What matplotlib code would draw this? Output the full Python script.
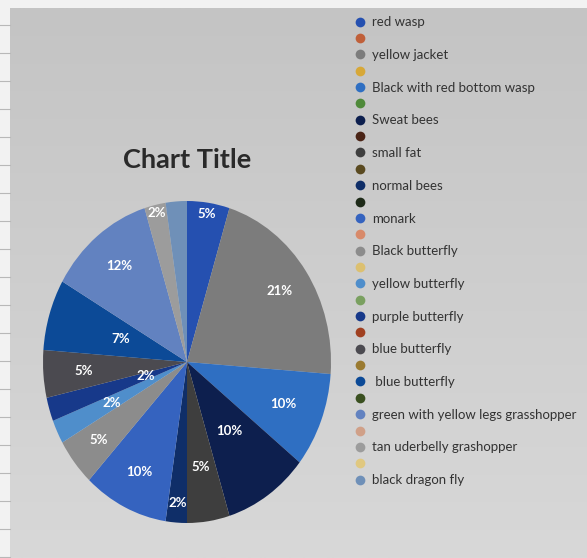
import matplotlib
matplotlib.use("Agg")
import matplotlib.pyplot as plt
import numpy as np
from matplotlib.lines import Line2D

# legend entries as they appear; blank names are empty series in the sheet
CATEGORIES = [
    "red wasp", "", "yellow jacket", "", "Black with red bottom wasp", "",
    "Sweat bees", "", "small fat", "", "normal bees", "", "monark", "",
    "Black butterfly", "", "yellow butterfly", "", "purple butterfly", "",
    "blue butterfly", "", " blue butterfly", "",
    "green with yellow legs grasshopper", "", "tan uderbelly grashopper", "",
    "black dragon fly",
]
COUNTS = [
    2, 0, 9, 0, 4, 0, 4, 0, 2, 0, 1, 0, 4, 0,
    2, 0, 1, 0, 1, 0, 2, 0, 3, 0, 5, 0, 1, 0, 1,
]
SHOW_LABEL = [
    True, False, True, False, True, False, True, False, True, False, True, False,
    True, False, True, False, True, False, True, False, True, False, True, False,
    True, False, True, False, False,
]
COLORS = [
    "#2550b0", "#c0603a", "#7c7c7c", "#d7a838", "#2f6fc2", "#4f8a3a",
    "#0d1f4e", "#4a2416", "#3e3e3e", "#5a4a20", "#0f2e68", "#1e2a18",
    "#3563bf", "#d88a6a", "#8c8c8c", "#dcc070", "#4f8ecb", "#7aa060",
    "#17398a", "#a04020", "#4b4a50", "#9a7a30", "#0c4a97", "#3a5020",
    "#6282c0", "#d0a088", "#9c9c9c", "#e0c880", "#6f90b8",
]
# radial position of each percentage label (fraction of radius)
LABEL_RADII = [
    0.93, 0, 0.78, 0, 0.72, 0, 0.52, 0, 0.66, 0, 0.88, 0, 0.76, 0,
    0.78, 0, 0.58, 0, 0.30, 0, 0.72, 0, 0.48, 0, 0.76, 0, 0.95, 0, 0.8,
]

W, H = 587, 558
fig = plt.figure(figsize=(W / 100, H / 100), dpi=100)
fig.patch.set_facecolor("#f2f2f2")

# chart area background (photo of a screen: grey with a soft gradient)
bg = fig.add_axes([10 / W, 0, 1 - 10 / W, 1 - 8 / H])
grad = np.linspace(0, 1, 256).reshape(-1, 1)
bg.imshow(grad, cmap=matplotlib.colors.LinearSegmentedColormap.from_list(
    "bgc", ["#c4c4c4", "#d8d8d8"]), aspect="auto", extent=(0, 1, 0, 1))
bg.set_axis_off()

# faint spreadsheet gridlines on the left edge
for y in np.arange(25, H, 28):
    fig.add_artist(Line2D([0, 10 / W], [1 - y / H, 1 - y / H],
                          color="#b8b8b8", lw=0.8))

cx, cy, rx, ry = 187, 362, 144, 161
ax = fig.add_axes([(cx - rx) / W, (H - cy - ry) / H, 2 * rx / W, 2 * ry / H])
counts = np.array(COUNTS, dtype=float)
nz = counts > 0
wedges, _ = ax.pie(
    counts[nz],
    colors=[c for c, k in zip(COLORS, nz) if k],
    startangle=90,
    counterclock=False,
    wedgeprops=dict(linewidth=0),
)
ax.set_aspect("auto")
ax.set_xlim(-1, 1)
ax.set_ylim(-1, 1)

total = counts.sum()
idx = np.flatnonzero(nz)
for w, i in zip(wedges, idx):
    if not SHOW_LABEL[i]:
        continue
    ang = np.deg2rad((w.theta1 + w.theta2) / 2)
    r = LABEL_RADII[i]
    ax.text(r * np.cos(ang), r * np.sin(ang), f"{counts[i] / total:.0%}",
            ha="center", va="center", color="white", fontsize=9.5,
            fontweight="bold", family="Lato")

fig.text(187 / W, 1 - 160 / H, "Chart Title", ha="center", va="center",
         fontsize=19.5, fontweight="bold", color="#2a2a2a", family="Lato")

handles = [
    Line2D([], [], marker="o", linestyle="", markersize=7,
           markerfacecolor=c, markeredgewidth=0)
    for c in COLORS
]
leg = fig.legend(
    handles, CATEGORIES,
    loc="upper left",
    bbox_to_anchor=(348 / W, 1 - 11 / H),
    frameon=False,
    prop=dict(family="Lato", size=9.5),
    labelspacing=0.33,
    handletextpad=0.45,
    handlelength=1.0,
    borderaxespad=0,
)
for t in leg.get_texts():
    t.set_color("#333333")

fig.savefig("out.png", dpi=100)
